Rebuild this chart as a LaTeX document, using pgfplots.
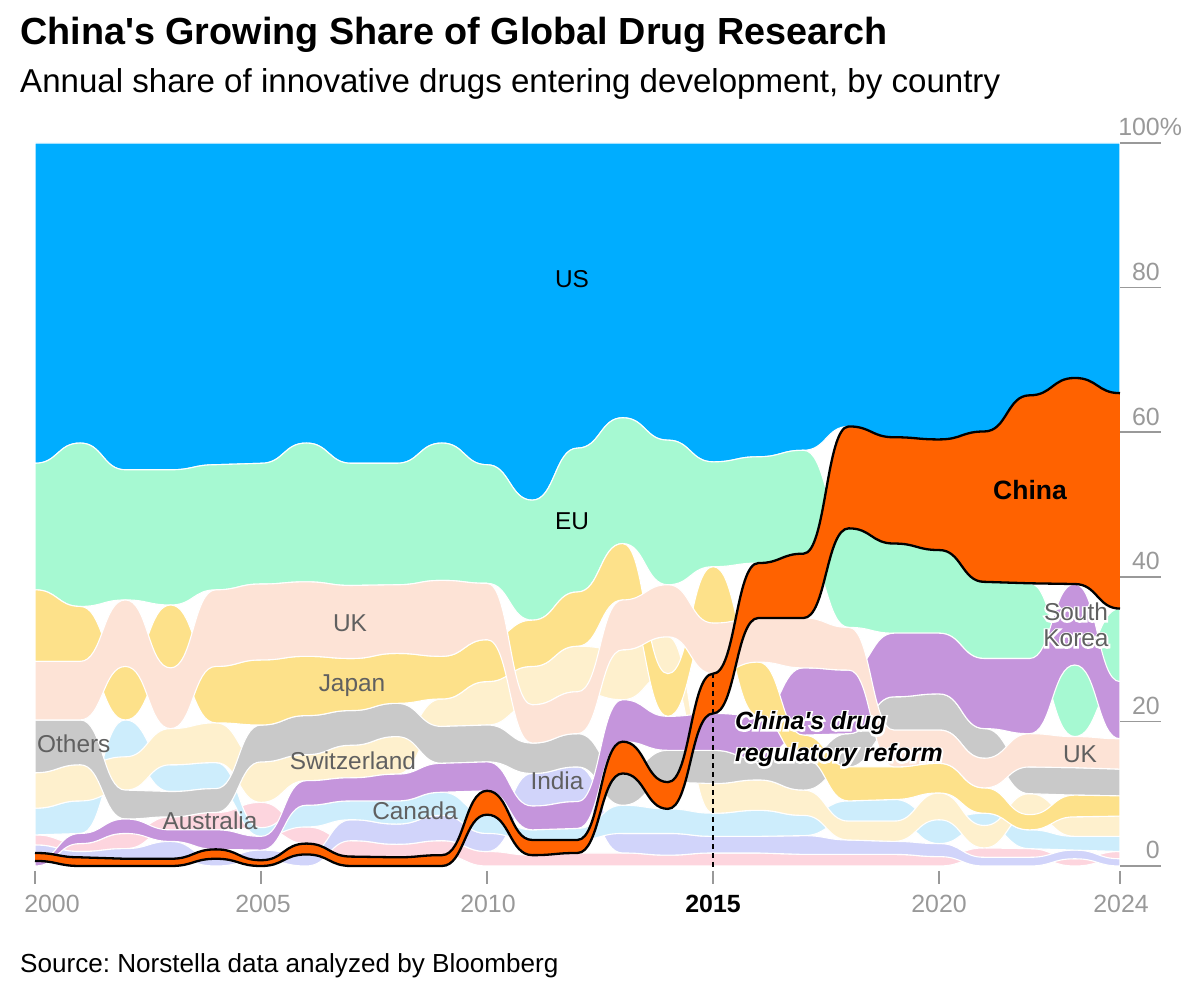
\documentclass[border=0pt]{standalone}
\usepackage{fontspec}
\setmainfont{Liberation Sans}[Ligatures=TeXOff]
\newfontfamily\halofont{Liberation Sans}[Ligatures=TeXOff, FakeBold=14]
\usepackage{pgfplots}
\pgfplotsset{compat=1.18}
\usepackage{pgfplotstable}
\usepgfplotslibrary{fillbetween}
\frenchspacing

\definecolor{cUS}{RGB}{0,173,255}
\definecolor{cEU}{RGB}{166,249,210}
\definecolor{cCN}{RGB}{255,98,0}
\definecolor{cUK}{RGB}{253,227,214}
\definecolor{cJP}{RGB}{253,225,138}
\definecolor{cOT}{RGB}{201,201,201}
\definecolor{cCH}{RGB}{254,240,205}
\definecolor{cSK}{RGB}{197,149,220}
\definecolor{cCA}{RGB}{205,237,252}
\definecolor{cIN}{RGB}{209,212,250}
\definecolor{cAU}{RGB}{253,213,222}
\definecolor{lblgray}{RGB}{96,96,96}
\definecolor{tickgray}{RGB}{153,153,153}

% bump-x interpolation: cubic segments with horizontal tangents at every year
\makeatletter
\newif\ifbumpx@first
\def\bumpx@point#1{%
  \pgf@process{#1}%
  \edef\bumpx@x{\the\pgf@x}%
  \edef\bumpx@y{\the\pgf@y}%
  \ifbumpx@first
    \global\bumpx@firstfalse
    \pgf@plot@first@action{\pgfqpoint{\bumpx@x}{\bumpx@y}}%
  \else
    \pgf@xc=\bumpx@lastx\relax
    \advance\pgf@xc by \bumpx@x\relax
    \divide\pgf@xc by 2\relax
    \edef\bumpx@mid{\the\pgf@xc}%
    \pgfpathcurveto{\pgfqpoint{\bumpx@mid}{\bumpx@lasty}}%
                   {\pgfqpoint{\bumpx@mid}{\bumpx@y}}%
                   {\pgfqpoint{\bumpx@x}{\bumpx@y}}%
  \fi
  \global\let\bumpx@lastx\bumpx@x
  \global\let\bumpx@lasty\bumpx@y
}
\pgfdeclareplothandler{\pgfplothandlerbumpx}{}{%
  start=\global\bumpx@firsttrue,
  point macro=\bumpx@point,
  jump=\global\bumpx@firsttrue,
}
\tikzset{bump x/.code={\let\tikz@plot@handler=\pgfplothandlerbumpx}}
\makeatother

% lower and upper edge of each country's band, in % (ranked stack)
\pgfplotstableread{
year lo hi
2000 55.7 100
2001 58.5 100
2002 54.8 100
2003 54.8 100
2004 55.5 100
2005 55.7 100
2006 58.5 100
2007 55.7 100
2008 55.7 100
2009 58.5 100
2010 55.5 100
2011 50.6 100
2012 57.8 100
2013 62.0 100
2014 58.9 100
2015 55.9 100
2016 56.6 100
2017 57.5 100
2018 60.8 100
2019 59.3 100
2020 59.0 100
2021 60.1 100
2022 65.1 100
2023 67.5 100
2024 65.4 100
}\dUS

\pgfplotstableread{
year lo hi
2000 38.2 55.7
2001 35.9 58.5
2002 36.8 54.8
2003 36.1 54.8
2004 38.2 55.5
2005 39.0 55.7
2006 39.3 58.5
2007 38.8 55.7
2008 38.9 55.7
2009 39.5 58.5
2010 39.1 55.5
2011 34.0 50.6
2012 37.9 57.8
2013 44.6 62.0
2014 38.9 58.9
2015 41.4 55.9
2016 41.9 56.6
2017 43.2 57.5
2018 33.0 46.7
2019 32.2 44.6
2020 32.2 43.7
2021 28.7 39.3
2022 28.7 39.1
2023 17.9 27.8
2024 25.5 35.6
}\dEU

\pgfplotstableread{
year lo hi
2000 0.7 1.8
2001 0.0 1.2
2002 0.0 1.0
2003 0.0 1.0
2004 1.0 2.3
2005 0.0 0.8
2006 1.6 3.1
2007 0.0 1.3
2008 0.0 1.2
2009 0.0 1.5
2010 7.1 10.4
2011 1.5 3.6
2012 1.8 3.6
2013 12.8 17.2
2014 7.9 11.6
2015 21.1 26.6
2016 34.3 41.9
2017 34.3 43.2
2018 46.7 60.8
2019 44.6 59.3
2020 43.7 59.0
2021 39.3 60.1
2022 39.1 65.1
2023 39.0 67.5
2024 35.6 65.4
}\dCN

\pgfplotstableread{
year lo hi
2000 20.2 28.3
2001 20.2 28.3
2002 27.6 36.8
2003 19.0 27.4
2004 27.6 38.2
2005 28.5 39.0
2006 29.0 39.3
2007 28.7 38.8
2008 29.4 38.9
2009 29.0 39.5
2010 31.3 39.1
2011 17.0 22.3
2012 18.3 24.1
2013 29.9 36.8
2014 31.7 38.9
2015 26.6 33.6
2016 28.2 34.3
2017 27.4 34.3
2018 27.1 33.0
2019 13.7 18.8
2020 14.2 18.8
2021 10.8 14.9
2022 13.7 18.3
2023 13.6 17.9
2024 13.4 17.6
}\dUK

\pgfplotstableread{
year lo hi
2000 28.3 38.2
2001 28.3 35.9
2002 20.2 27.6
2003 27.4 36.1
2004 19.8 27.6
2005 19.5 28.5
2006 20.8 29.0
2007 21.5 28.7
2008 22.5 29.4
2009 23.1 29.0
2010 25.5 31.3
2011 27.6 34.0
2012 30.4 37.9
2013 36.8 44.6
2014 20.7 26.6
2015 33.6 41.4
2016 20.8 28.2
2017 14.9 18.1
2018 9.0 13.7
2019 9.2 13.7
2020 10.1 14.2
2021 7.3 10.8
2022 5.0 7.1
2023 6.8 9.8
2024 6.9 9.7
}\dJP

\pgfplotstableread{
year lo hi
2000 12.9 20.2
2001 14.0 20.2
2002 6.5 10.5
2003 6.8 10.3
2004 7.4 10.7
2005 14.4 19.5
2006 15.4 20.8
2007 16.7 21.5
2008 17.9 22.5
2009 14.2 19.3
2010 14.4 19.5
2011 12.8 17.0
2012 13.7 18.3
2013 8.4 12.8
2014 11.6 16.0
2015 11.4 16.0
2016 11.9 14.8
2017 10.5 14.9
2018 13.7 18.3
2019 18.8 23.4
2020 18.8 23.8
2021 14.9 19.0
2022 10.0 13.7
2023 9.8 13.6
2024 9.7 13.4
}\dOT

\pgfplotstableread{
year lo hi
2000 8.0 12.9
2001 9.0 14.0
2002 10.5 15.1
2003 14.0 19.0
2004 14.3 19.8
2005 8.8 14.4
2006 11.8 15.4
2007 12.2 16.7
2008 12.7 17.9
2009 19.3 23.1
2010 19.5 25.5
2011 22.3 27.6
2012 24.1 30.4
2013 23.0 29.9
2014 26.6 31.7
2015 7.3 11.4
2016 7.7 11.9
2017 7.0 10.5
2018 3.6 6.2
2019 3.4 6.2
2020 6.4 10.1
2021 2.5 5.6
2022 7.1 10.0
2023 4.1 6.8
2024 4.1 6.9
}\dCH

\pgfplotstableread{
year lo hi
2000 0.0 0.7
2001 3.1 4.5
2002 4.5 6.5
2003 3.4 5.0
2004 2.3 5.0
2005 2.2 4.1
2006 8.4 11.8
2007 9.0 12.2
2008 9.0 12.7
2009 10.2 14.2
2010 10.4 14.4
2011 5.0 8.3
2012 5.2 8.9
2013 17.2 23.0
2014 16.0 20.7
2015 16.0 21.1
2016 14.8 20.8
2017 18.1 27.4
2018 18.3 27.1
2019 23.4 32.2
2020 23.8 32.2
2021 19.0 28.7
2022 18.3 28.7
2023 27.8 39.0
2024 17.6 25.5
}\dSK

\pgfplotstableread{
year lo hi
2000 4.3 8.0
2001 4.5 9.0
2002 15.1 20.2
2003 10.3 14.0
2004 10.7 14.3
2005 4.1 5.3
2006 5.4 8.4
2007 6.4 9.0
2008 5.8 9.0
2009 7.0 10.2
2010 4.5 7.1
2011 3.6 5.0
2012 3.6 5.2
2013 4.5 8.4
2014 4.5 7.9
2015 4.1 7.3
2016 4.1 7.7
2017 4.2 7.0
2018 6.2 9.0
2019 6.2 9.2
2020 3.1 6.4
2021 5.6 7.3
2022 2.4 5.0
2023 2.2 4.1
2024 2.0 4.1
}\dCA

\pgfplotstableread{
year lo hi
2000 1.8 2.9
2001 1.2 2.0
2002 1.0 2.4
2003 1.0 3.4
2004 0.0 1.0
2005 0.8 2.2
2006 0.0 1.6
2007 3.5 6.4
2008 3.0 5.8
2009 3.5 7.0
2010 2.0 4.5
2011 8.3 12.8
2012 8.9 13.7
2013 1.8 4.5
2014 1.5 4.5
2015 1.8 4.1
2016 1.8 4.1
2017 1.6 4.2
2018 1.6 3.6
2019 1.6 3.4
2020 1.3 3.1
2021 0.0 1.2
2022 0.0 1.2
2023 1.0 2.2
2024 0.0 1.0
}\dIN

\pgfplotstableread{
year lo hi
2000 2.9 4.3
2001 2.0 3.1
2002 2.4 4.5
2003 5.0 6.8
2004 5.0 7.4
2005 5.3 8.8
2006 3.1 5.4
2007 1.3 3.5
2008 1.2 3.0
2009 1.5 3.5
2010 0.0 2.0
2011 0.0 1.5
2012 0.0 1.8
2013 0.0 1.8
2014 0.0 1.5
2015 0.0 1.8
2016 0.0 1.8
2017 0.0 1.6
2018 0.0 1.6
2019 0.0 1.6
2020 0.0 1.3
2021 1.2 2.5
2022 1.2 2.4
2023 0.0 1.0
2024 1.0 2.0
}\dAU

% one band: two named edges and the fill between them
\newcommand\band[3]{%
  \addplot[bump x, draw=none, name path=#1hi] table[x=year, y=hi] {#3};
  \addplot[bump x, draw=none, name path=#1lo] table[x=year, y=lo] {#3};
  \addplot[fill=#2, draw=white, line width=1.1bp] fill between[of=#1hi and #1lo];
}

% text with a white halo: an emboldened white copy under the text
\newcommand\halo[4]{%
  \node[#2, text=white, font=\halofont#3] at (#1) {#4};
  \node[#2, font=#3] at (#1) {#4};
}

\begin{document}
\begin{tikzpicture}
\begin{axis}[
    at={(35bp,132bp)}, anchor=south west,
    scale only axis, width=1085bp, height=723bp,
    xmin=2000, xmax=2024, ymin=0, ymax=100,
    axis lines=none, clip=false,
]
\band{US}{cUS}{\dUS}
\band{EU}{cEU}{\dEU}
\band{AU}{cAU}{\dAU}
\band{IN}{cIN}{\dIN}
\band{CA}{cCA}{\dCA}
\band{CH}{cCH}{\dCH}
\band{OT}{cOT}{\dOT}
\band{SK}{cSK}{\dSK}
\band{JP}{cJP}{\dJP}
\band{UK}{cUK}{\dUK}
\addplot[bump x, draw=none, name path=CNhi] table[x=year, y=hi] {\dCN};
\addplot[bump x, draw=none, name path=CNlo] table[x=year, y=lo] {\dCN};
\addplot[fill=cCN, draw=none] fill between[of=CNhi and CNlo];
\addplot[bump x, black, line width=2.3bp] table[x=year, y=hi] {\dCN};
\addplot[bump x, black, line width=2.3bp] table[x=year, y=lo] {\dCN};
\end{axis}

% reform marker at 2015
\draw[black, line width=1.8bp, dash pattern=on 5bp off 4bp] (713bp,325bp) -- (713bp,114bp);

% titles
\node[anchor=base west, inner sep=0pt, font=\fontsize{37.9}{40}\selectfont\bfseries] at (20bp,953bp) {China's Growing Share of Global Drug Research};
\node[anchor=base west, inner sep=0pt, font=\fontsize{33.2}{36}\selectfont] at (20bp,905bp) {Annual share of innovative drugs entering development, by country};
\node[anchor=base west, inner sep=0pt, font=\fontsize{26.2}{30}\selectfont] at (20bp,26bp) {Source: Norstella data analyzed by Bloomberg};

% x ticks
\foreach \px in {35,261,487,713,939,1120}{\draw[tickgray, line width=1.5bp] (\px bp,127bp) -- (\px bp,114bp);}
\foreach \px/\lab in {52/2000,263/2005,488/2010,939/2020,1121/2024}{
  \node[anchor=base, inner sep=0pt, text=tickgray, font=\fontsize{25}{28}\selectfont] at (\px bp,85bp) {\lab};}
\node[anchor=base, inner sep=0pt, font=\fontsize{25}{28}\selectfont\bfseries] at (713bp,85bp) {2015};

% y ticks on the right
\foreach \v in {0,20,40,60,80,100}{
  \draw[tickgray, line width=1.5bp] (1120bp,132bp+7.23bp*\v) -- (1161bp,132bp+7.23bp*\v);}
\foreach \v in {0,20,40,60,80}{
  \node[anchor=base east, inner sep=0pt, text=tickgray, font=\fontsize{25}{28}\selectfont] at (1160bp,139bp+7.23bp*\v) {\v};}
\node[anchor=base east, inner sep=0pt, text=tickgray, font=\fontsize{25}{28}\selectfont] at (1160bp,862bp) {100\rlap{\%}};

% band labels
\begin{scope}[every node/.style={inner sep=0pt, anchor=base, font=\fontsize{24.5}{28}\selectfont}]
\node at (572bp,710bp) {US};
\node at (572bp,468bp) {EU};
\node[text=lblgray] at (350bp,366bp) {UK};
\node[text=lblgray] at (352bp,306bp) {Japan};
\node[text=lblgray, anchor=base west] at (37bp,245bp) {Others};
\node[text=lblgray] at (353bp,228bp) {Switzerland};
\node[text=lblgray] at (210bp,168bp) {Australia};
\node[text=lblgray] at (415bp,178bp) {Canada};
\node[text=lblgray] at (557bp,208bp) {India};
\node[text=lblgray] at (1080bp,235bp) {UK};
\end{scope}
\halo{1076bp,377bp}{inner sep=0pt, anchor=base, text=lblgray}{\fontsize{24.5}{28}\selectfont}{South}
\halo{1076bp,351bp}{inner sep=0pt, anchor=base, text=lblgray}{\fontsize{24.5}{28}\selectfont}{Korea}
\node[inner sep=0pt, anchor=base, font=\fontsize{26.6}{30}\selectfont\bfseries] at (1030bp,498bp) {China};
\halo{735bp,268bp}{inner sep=0pt, anchor=base west}{\fontsize{25}{30}\selectfont\bfseries\itshape}{China's drug}
\halo{735bp,236bp}{inner sep=0pt, anchor=base west}{\fontsize{25}{30}\selectfont\bfseries\itshape}{regulatory reform}

% page frame, 1 bp per reference pixel
\path (0,0) rectangle (1200bp,998bp);
\end{tikzpicture}
\end{document}
